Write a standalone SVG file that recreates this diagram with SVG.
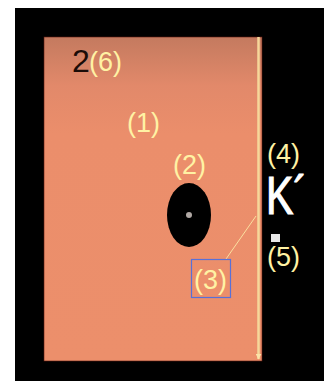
<svg xmlns="http://www.w3.org/2000/svg" width="324" height="381" viewBox="0 0 324 381">
<defs>
<linearGradient id="bg" x1="0" y1="0" x2="0" y2="1">
<stop offset="0" stop-color="#c47a5f"/>
<stop offset="0.15" stop-color="#e2896a"/>
<stop offset="0.3" stop-color="#eb8e6b"/>
<stop offset="1" stop-color="#ec8f6b"/>
</linearGradient>
<marker id="arr" viewBox="0 0 10 10" refX="9" refY="5" markerWidth="6" markerHeight="6" orient="auto" markerUnits="userSpaceOnUse">
<path d="M0,0 L10,5 L0,10 z" fill="#fbe3a8"/>
</marker>
<style>
.lbl{font-family:"Liberation Sans",Arial,sans-serif;font-size:27px;fill:#fff2a4}
.wht{font-family:"Liberation Sans",Arial,sans-serif;fill:#ffffff}
</style>
</defs>
<rect x="0" y="0" width="324" height="381" fill="#ffffff"/>
<rect x="15" y="8" width="309" height="373" fill="#000000"/>
<g id="panel">
<rect x="44" y="37" width="218" height="324" fill="url(#bg)" stroke="#5a1a10" stroke-width="0.6"/>
</g>
<g id="connectors">
<line x1="258.5" y1="37" x2="258.5" y2="359" stroke="#f6d79a" stroke-width="2.5" marker-end="url(#arr)"/>
<line x1="256" y1="216" x2="226" y2="259" stroke="#fbe0a0" stroke-width="1"/>
</g>
<g id="hole">
<ellipse cx="189" cy="215" rx="22" ry="32" fill="#000000"/>
<circle cx="189" cy="215" r="3" fill="#b0a8a4"/>
</g>
<g id="box3">
<rect x="191.5" y="259.5" width="39" height="38" fill="none" stroke="#5870d8" stroke-width="1.2"/>
<text class="lbl" x="194" y="289">(3)</text>
</g>
<g id="label26">
<text x="72" y="72" font-family="Liberation Sans,Arial,sans-serif" font-size="32" fill="#1a0c08">2</text>
<text class="lbl" x="89" y="71">(6)</text>
</g>
<text class="lbl" x="127" y="132">(1)</text>
<text class="lbl" x="173" y="174">(2)</text>
<text class="lbl" x="267" y="163">(4)</text>
<text class="wht" font-size="54" stroke="#ffffff" stroke-width="1.2" transform="translate(266,214) scale(0.76,1)">K´</text>
<rect x="271" y="234" width="9" height="8" fill="#e8e8e8"/>
<text class="lbl" x="267" y="266">(5)</text>
</svg>
